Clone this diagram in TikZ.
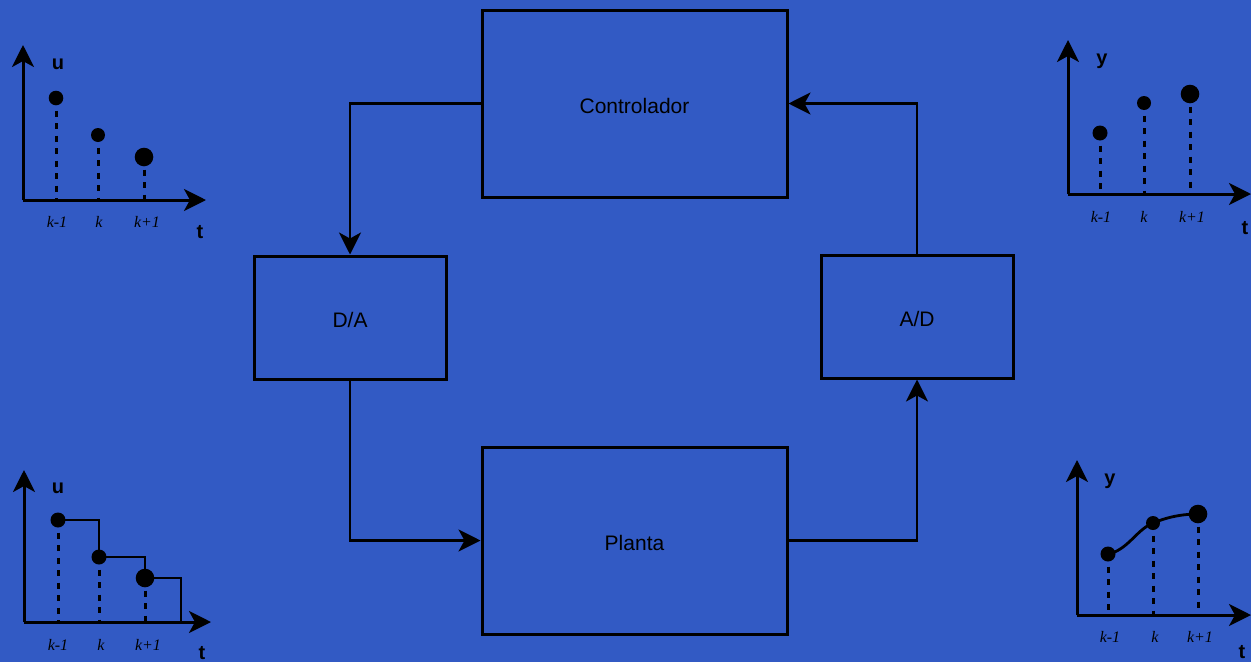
\documentclass[tikz,border=0pt]{standalone}
\usepackage{fontspec}
\setmainfont{Liberation Sans}
\newfontfamily\tickfont{Liberation Serif}
\usetikzlibrary{arrows.meta}
\definecolor{bgblue}{RGB}{50,90,196}
\begin{document}
\begin{tikzpicture}[x=1pt,y=-1pt,
  blockbox/.style={draw=black,line width=3pt,fill=none,inner sep=0pt},
  blocklabel/.style={font=\fontsize{21}{24}\selectfont,inner sep=0pt,yshift=-2.5pt},
  flow/.style={line width=2.7pt,-{Stealth[length=22pt,width=22pt,inset=6pt]}},
  axis/.style={line width=3pt,-{Stealth[length=22pt,width=22pt,inset=6pt]}},
  stem/.style={line width=3pt,dash pattern=on 6pt off 6.5pt},
  signal/.style={line width=2.8pt},
  axlabel/.style={font=\bfseries\fontsize{20}{22}\selectfont,inner sep=0pt},
  ticklabel/.style={font=\tickfont\itshape\fontsize{16}{18}\selectfont,inner sep=0pt},
  dot/.style={fill=black}]
\fill[bgblue] (0,0) rectangle (1251,662);
\useasboundingbox (0,0) rectangle (1251,662);

% main loop blocks
\node[blockbox,minimum width=305pt,minimum height=187pt,label={[blocklabel]center:Controlador}] (ctrl) at (634.5,103.5) {};
\node[blockbox,minimum width=192pt,minimum height=123pt,label={[blocklabel]center:D/A}] (da) at (350,317.5) {};
\node[blockbox,minimum width=192pt,minimum height=123pt,label={[blocklabel]center:A/D}] (ad) at (917,316.5) {};
\node[blockbox,minimum width=305pt,minimum height=187pt,label={[blocklabel]center:Planta}] (planta) at (634.5,540.5) {};

\draw[flow] (ctrl.west) -| (da.north);
\draw[flow] (da.south) |- (planta.west);
\draw[flow] (planta.east) -| (ad.south);
\draw[flow] (ad.north) |- (ctrl.east);

% sampled control signal u
\draw[axis] (23,200) -- (23,45);
\draw[axis] (23,200) -- (206,200);
\draw[stem] (56,98) -- (56,200);
\draw[stem] (98,135) -- (98,200);
\draw[stem] (144,157) -- (144,200);
\fill[dot] (56,98) circle (7.3pt);
\fill[dot] (98,135) circle (7pt);
\fill[dot] (144,157) circle (9.3pt);
\node[axlabel] (u1) at (58,64) {u};
\node[axlabel] (t1) at (200,232) {t};
\node[ticklabel] (a1) at (57,222) {k-1};
\node[ticklabel] (b1) at (99,222) {k};
\node[ticklabel] (c1) at (147,222) {k+1};

% sampled output y
\draw[axis] (1068,194) -- (1068,40);
\draw[axis] (1068,194) -- (1251,194);
\draw[stem] (1100,133) -- (1100,194);
\draw[stem] (1144,103) -- (1144,194);
\draw[stem] (1190,94) -- (1190,194);
\fill[dot] (1100,133) circle (7.5pt);
\fill[dot] (1144,103) circle (7pt);
\fill[dot] (1190,94) circle (9.3pt);
\node[axlabel] (y1) at (1102,61) {y};
\node[axlabel] (t2) at (1245,228) {t};
\node[ticklabel] (a2) at (1101,217) {k-1};
\node[ticklabel] (b2) at (1144,217) {k};
\node[ticklabel] (c2) at (1192,217) {k+1};

% held control signal u (zero-order hold)
\draw[axis] (24,622) -- (24,470);
\draw[axis] (24,622) -- (211,622);
\draw[stem] (58,520) -- (58,622);
\draw[stem] (99,557) -- (99,622);
\draw[stem] (145,578) -- (145,622);
\draw[signal] (58,520) -- (99,520) -- (99,557) -- (145,557) -- (145,578) -- (181,578) -- (181,622);
\fill[dot] (58,520) circle (7.5pt);
\fill[dot] (99,557) circle (7.5pt);
\fill[dot] (145,578) circle (9.3pt);
\node[axlabel] (u2) at (58,488) {u};
\node[axlabel] (t3) at (202,653) {t};
\node[ticklabel] (a3) at (58,645) {k-1};
\node[ticklabel] (b3) at (101,645) {k};
\node[ticklabel] (c3) at (148,645) {k+1};

% continuous plant output y
\draw[axis] (1077,615) -- (1077,460);
\draw[axis] (1077,615) -- (1251,615);
\draw[stem] (1108,554) -- (1108,615);
\draw[stem] (1153,523) -- (1153,615);
\draw[stem] (1198,514) -- (1198,615);
\draw[signal] (1108,554) .. controls (1128,550) and (1136,530) .. (1153,523)
  .. controls (1170,516) and (1185,514) .. (1198,514);
\fill[dot] (1108,554) circle (7.5pt);
\fill[dot] (1153,523) circle (7pt);
\fill[dot] (1198,514) circle (9.3pt);
\node[axlabel] (y2) at (1110,481) {y};
\node[axlabel] (t4) at (1242,652) {t};
\node[ticklabel] (a4) at (1110,637) {k-1};
\node[ticklabel] (b4) at (1155,637) {k};
\node[ticklabel] (c4) at (1200,637) {k+1};
\end{tikzpicture}
\end{document}
